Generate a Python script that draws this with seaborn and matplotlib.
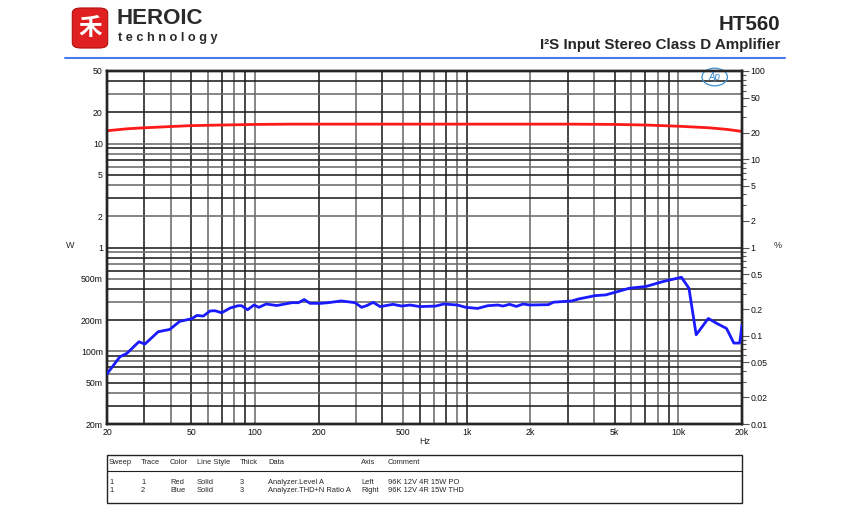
import numpy as np
import pandas as pd
import matplotlib
matplotlib.use("Agg")
import matplotlib.pyplot as plt
from matplotlib.patches import FancyBboxPatch, Ellipse, Rectangle
from matplotlib.lines import Line2D
from matplotlib.ticker import FixedLocator, NullFormatter, NullLocator
import seaborn as sns

# ---------------- data ----------------
red_freq = [20, 25, 30, 40, 50, 70, 100, 150, 200, 300, 500, 1000, 2000, 3000, 5000, 7000, 10000, 14000, 17000, 20000]
red_watts = [13.3, 13.9, 14.2, 14.6, 14.9, 15.1, 15.3, 15.4, 15.4, 15.4, 15.4, 15.4, 15.4, 15.4, 15.3, 15.1, 14.7, 14.2, 13.7, 13.1]

blue_freq = [20, 23, 24.8, 28.3, 30.2, 34.9, 39.6, 44.1, 50.3, 53.2, 57.0, 61.4, 64.8, 69.6, 76.3, 83.2, 86.5,
             92.3, 98.9, 104.4, 113, 126.8, 138.6, 149.7, 160.5, 171, 182, 206, 222, 256, 297, 319, 338, 362,
             390, 449, 494, 540, 602, 714, 780, 904, 991, 1127, 1259, 1405, 1484, 1596, 1718, 1848, 1988,
             2435, 2574, 3143, 3378, 4057, 4534, 5157, 5862, 7040, 8460, 10350, 11230, 12150, 13860, 15200,
             16900, 18300, 19500, 20000]
blue_pct = [0.037, 0.0577, 0.063, 0.0855, 0.0805, 0.111, 0.118, 0.1455, 0.156, 0.170, 0.167, 0.191, 0.192,
            0.182, 0.206, 0.219, 0.219, 0.197, 0.223, 0.21, 0.229, 0.22, 0.229, 0.237, 0.237, 0.257, 0.233,
            0.233, 0.237, 0.248, 0.237, 0.21, 0.22, 0.239, 0.214, 0.227, 0.217, 0.223, 0.214, 0.217, 0.229,
            0.223, 0.21, 0.204, 0.219, 0.223, 0.217, 0.227, 0.215, 0.229, 0.223, 0.225, 0.24, 0.248, 0.261,
            0.285, 0.29, 0.316, 0.345, 0.362, 0.411, 0.46, 0.345, 0.1026, 0.157, 0.138, 0.121, 0.0826,
            0.0826, 0.132]

x_ticks = [20, 50, 100, 200, 500, 1000, 2000, 5000, 10000, 20000]
x_labels = ["20", "50", "100", "200", "500", "1k", "2k", "5k", "10k", "20k"]
left_ticks = [0.02, 0.05, 0.1, 0.2, 0.5, 1, 2, 5, 10, 20, 50]
left_labels = ["20m", "50m", "100m", "200m", "500m", "1", "2", "5", "10", "20", "50"]
right_ticks = [0.01, 0.02, 0.05, 0.1, 0.2, 0.5, 1, 2, 5, 10, 20, 50, 100]
right_labels = ["0.01", "0.02", "0.05", "0.1", "0.2", "0.5", "1", "2", "5", "10", "20", "50", "100"]

table_cols = ["Sweep", "Trace", "Color", "Line Style", "Thick", "Data", "Axis", "Comment"]
table_rows = [["1", "1", "Red", "Solid", "3", "Analyzer.Level A", "Left", "96K 12V 4R 15W PO"],
              ["1", "2", "Blue", "Solid", "3", "Analyzer.THD+N Ratio A", "Right", "96K 12V 4R 15W THD"]]

# ---------------- style ----------------
sns.set_style("white")
plt.rcParams["font.family"] = ["Liberation Sans", "Noto Sans CJK SC", "DejaVu Sans"]

W, H = 850, 512
fig = plt.figure(figsize=(8.5, 5.12), dpi=100)

def fx(px):
    return px / W

def fy(py):
    return 1 - py / H

ax_l, ax_r, ax_t, ax_b = 107, 742, 71, 424
ax = fig.add_axes([fx(ax_l), fy(ax_b), fx(ax_r - ax_l), fy(ax_t) - fy(ax_b)])
ax.set_xscale("log")
ax.set_yscale("log")
ax.set_xlim(20, 20000)
ax.set_ylim(0.02, 50)

# grid (major + minor) from left axis / x axis
xgrid = [m * 10 ** d for d in range(1, 5) for m in range(1, 10) if 20 <= m * 10 ** d <= 20000]
ygrid = [m * 10 ** d for d in range(-2, 2) for m in range(1, 10) if 0.02 <= m * 10 ** d <= 50]
for i, xv in enumerate(xgrid):
    ax.axvline(xv, color="#1e1e1e" if i % 2 else "#6a6a6a", linewidth=1.15, zorder=1)
for i, yv in enumerate(ygrid):
    ax.axhline(yv, color="#1e1e1e" if i % 2 else "#6a6a6a", linewidth=1.15, zorder=1)

red_df = pd.DataFrame({"Hz": red_freq, "W": red_watts})
sns.lineplot(data=red_df, x="Hz", y="W", ax=ax, color="#ff1a1a", linewidth=2.0, zorder=3)

ax.xaxis.set_major_locator(FixedLocator(x_ticks))
ax.set_xticklabels(x_labels)
ax.xaxis.set_minor_locator(NullLocator())
ax.yaxis.set_major_locator(FixedLocator(left_ticks))
ax.set_yticklabels(left_labels)
ax.yaxis.set_minor_locator(NullLocator())
ax.tick_params(axis="both", which="both", length=0, labelsize=6.3, pad=3, labelcolor="#111111")
ax.set_xlabel("")
ax.set_ylabel("")
for s in ax.spines.values():
    s.set_linewidth(1.7)
    s.set_color("black")
    s.set_zorder(5)

ax2 = ax.twinx()
ax2.set_yscale("log")
ax2.set_ylim(0.01, 100)
blue_df = pd.DataFrame({"Hz": blue_freq, "pct": blue_pct})
sns.lineplot(data=blue_df, x="Hz", y="pct", ax=ax2, color="#1a1aff", linewidth=2.0, zorder=3)
ax2.set_xlim(20, 20000)
ax2.yaxis.set_major_locator(FixedLocator(right_ticks))
ax2.set_yticklabels(right_labels)
ax2.yaxis.set_minor_locator(FixedLocator([m * 10 ** d for d in range(-2, 2) for m in range(2, 10)]))
ax2.yaxis.set_minor_formatter(NullFormatter())
ax2.tick_params(axis="y", which="major", length=5, width=0.8, labelsize=6.3, pad=1, color="#555555",
                labelcolor="#111111")
ax2.tick_params(axis="y", which="minor", length=3, width=0.8, color="#555555")
ax2.set_ylabel("")
ax2.set_xlabel("")
for s in ax2.spines.values():
    s.set_linewidth(1.7)

# axis unit labels
fig.text(fx(70), fy(246), "W", fontsize=6.5, ha="center", va="center")
fig.text(fx(778), fy(246), "%", fontsize=6.5, ha="center", va="center")
fig.text(fx(425), fy(441), "Hz", fontsize=6.5, ha="center", va="center")

# Ap logo
ax.add_patch(Ellipse((0.957, 0.983), 0.04, 0.05, transform=ax.transAxes, fill=False,
                     edgecolor="#3a8fd0", linewidth=0.9, zorder=6, clip_on=False))
ax.text(0.957, 0.983, "Ap", transform=ax.transAxes, color="#3a8fd0", fontsize=7,
        style="italic", ha="center", va="center", zorder=6)

# ---------------- header ----------------
fig.add_artist(FancyBboxPatch((fx(74), fy(47)), fx(32), fy(9) - fy(47),
                              boxstyle="round,pad=0.002,rounding_size=0.01",
                              facecolor="#e02020", edgecolor="#b01010", linewidth=0.8,
                              transform=fig.transFigure))
fig.text(fx(90), fy(28), "禾", color="white", fontsize=17, ha="center", va="center",
         family=["Noto Sans CJK SC"], fontweight="bold")
fig.text(fx(117), fy(19), "HEROIC", fontsize=16, fontweight="bold", color="#2a2a2a",
         ha="left", va="center")
fig.text(fx(118), fy(38), "t e c h n o l o g y", fontsize=9.2, fontweight="bold", color="#2a2a2a",
         ha="left", va="center")
fig.text(fx(780), fy(25), "HT560", fontsize=14.8, fontweight="bold", ha="right", va="center")
fig.text(fx(780), fy(45), "I²S Input Stereo Class D Amplifier", fontsize=10.9, fontweight="bold",
         ha="right", va="center")
fig.add_artist(Line2D([fx(65), fx(785)], [fy(57.5), fy(57.5)], color="#4a7cf0", linewidth=1.5))

# ---------------- table ----------------
fig.add_artist(Rectangle((fx(107), fy(503)), fx(742 - 107), fy(455) - fy(503), fill=False,
                         edgecolor="#222222", linewidth=1.0, transform=fig.transFigure))
fig.add_artist(Line2D([fx(107), fx(742)], [fy(471), fy(471)], color="#222222", linewidth=0.8))
col_x = [109, 141, 170, 197, 240, 268, 361, 388]
for cx, name in zip(col_x, table_cols):
    fig.text(fx(cx), fy(463), name, fontsize=5.4, ha="left", va="center")
for ry, row in zip([483, 491], table_rows):
    for cx, val in zip(col_x, row):
        fig.text(fx(cx), fy(ry), val, fontsize=5.4, ha="left", va="center")

fig.savefig("out.png", dpi=100, facecolor="white")
